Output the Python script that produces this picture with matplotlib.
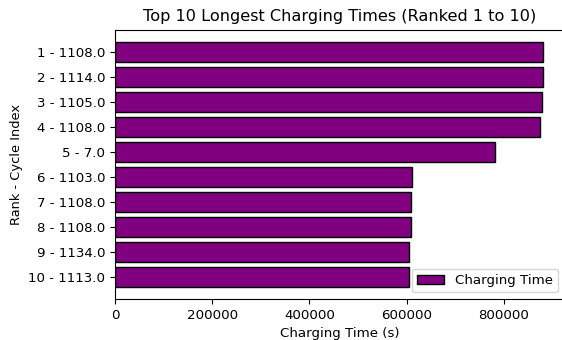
import matplotlib
matplotlib.use("Agg")
import matplotlib.pyplot as plt

# Top 10 charging times, ranked
ranks = [1, 2, 3, 4, 5, 6, 7, 8, 9, 10]
cycle_index = [1108.0, 1114.0, 1105.0, 1108.0, 7.0, 1103.0, 1108.0, 1108.0, 1134.0, 1113.0]
charging_time = [881000, 881500, 878000, 875000, 782500, 610500, 610000, 608500, 606000, 604000]

labels = [f"{r} - {c}" for r, c in zip(ranks, cycle_index)]

fig = plt.figure(figsize=(5.62, 3.40), dpi=100)
ax = fig.add_axes([0.2046, 0.1206, 0.8004, 0.7919])

ax.barh(labels, charging_time, color='purple', edgecolor='black', label='Charging Time')
ax.invert_yaxis()

ax.set_title('Top 10 Longest Charging Times (Ranked 1 to 10)', fontsize=11.6)
ax.set_xlabel('Charging Time (s)', fontsize=9.6)
ax.set_ylabel('Rank - Cycle Index', fontsize=9.4)
ax.tick_params(labelsize=9.6)
ax.legend(loc='lower right', fontsize=9.6)

fig.savefig('out.png', dpi=100)
plt.close(fig)
